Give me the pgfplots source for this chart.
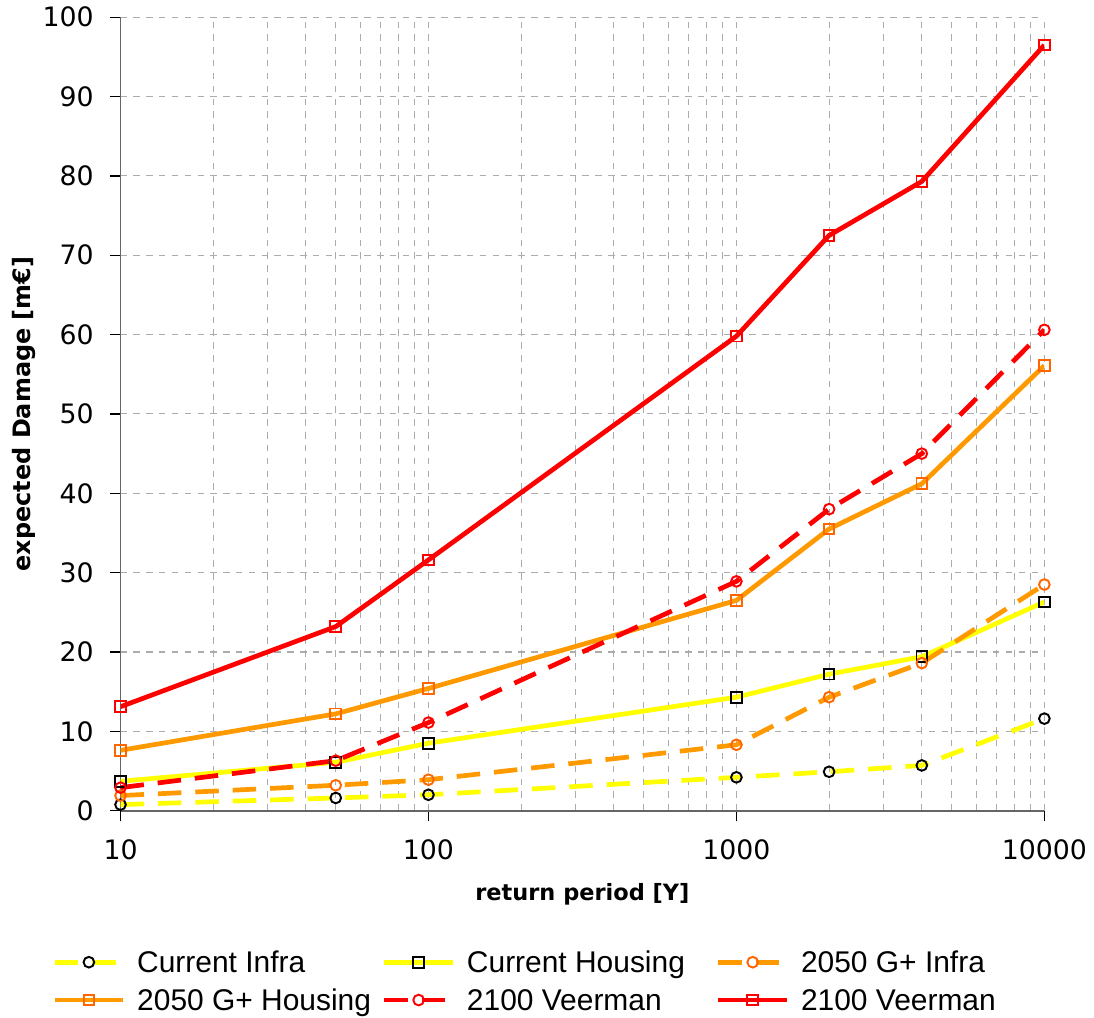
\documentclass[border=0pt]{standalone}
\usepackage{pgfplots}
\pgfplotsset{compat=1.18}
\usepackage{fontspec}
\setmainfont{DejaVu Sans}
\newfontfamily\legfont{Liberation Sans}
\definecolor{cy}{HTML}{FFFF00}
\definecolor{co}{HTML}{FF9900}
\definecolor{cr}{HTML}{FF0000}
\definecolor{mo}{HTML}{FF6600}
\newcommand{\lta}[1]{\makebox[112.5pt][l]{#1}}
\newcommand{\ltb}[1]{\makebox[114.5pt][l]{#1}}
\begin{document}
\begin{tikzpicture}
\begin{axis}[
  scale only axis,
  width=432pt, height=371pt,
  xmode=log, log basis x=10,
  xmin=10, xmax=10000, ymin=0, ymax=100,
  xtick={10,100,1000,10000},
  xticklabels={10,100,1000,10000},
  minor xtick={20,30,40,50,60,70,80,90,200,300,400,500,600,700,800,900,2000,3000,4000,5000,6000,7000,8000,9000},
  ytick={0,10,...,100},
  axis x line*=bottom, axis y line*=left,
  axis line style={gray!80!black, line width=0.8pt},
  tick align=outside,
  major tick length=5pt, minor tick length=0pt,
  tick style={black, line width=0.6pt},
  grid=both,
  major grid style={gray!65, dashed, line width=0.5pt},
  minor grid style={gray!65, dashed, line width=0.5pt},
  ticklabel style={font=\fontsize{12.5}{14}\selectfont},
  yticklabel style={xshift=-4pt},
  xticklabel style={yshift=-5pt},
  /pgf/number format/assume math mode=true,
  xlabel={\bfseries return period [Y]},
  ylabel={\bfseries expected Damage [m€]},
  xlabel style={font=\fontsize{10.5}{12}\selectfont, yshift=-4pt},
  ylabel style={font=\fontsize{11.2}{13}\selectfont, inner ysep=5.7pt, yshift=-5.9pt},
  legend columns=3,
  legend style={draw=none, at={(-0.0738,-0.1685)}, anchor=north west,
    inner sep=0pt, outer sep=0pt,
    nodes={inner sep=2pt},
    font=\legfont\fontsize{14}{16}\selectfont,
    /tikz/every odd column/.append style={column sep=3.5pt},
    row sep=1pt},
  legend cell align=left,
  legend image code/.code={\draw[mark repeat=2,mark phase=2] plot coordinates {(0pt,0pt) (16pt,0pt) (32pt,0pt)};},
  dashpat/.style={dash pattern=on 11pt off 6.5pt},
  mark size=2.5pt,
]
\addplot[cy, line width=2.2pt, dashpat, mark=o, mark options={draw=black, fill=white, solid, line width=0.9pt}] coordinates {
(10,0.76) (50,1.6) (100,2.0) (1000,4.2) (2000,4.9) (4000,5.7) (10000,11.6)};
\addlegendentry{\lta{Current Infra}\strut}
\addplot[cy, line width=2.2pt, mark=square, mark options={draw=black, fill=white, solid, line width=0.9pt}] coordinates {
(10,3.7) (50,6.1) (100,8.5) (1000,14.3) (2000,17.2) (4000,19.4) (10000,26.3)};
\addlegendentry{\ltb{Current Housing}\strut}
\addplot[co, line width=2.2pt, dashpat, mark=o, mark options={draw=mo, fill=white, solid, line width=0.9pt}] coordinates {
(10,1.9) (50,3.2) (100,3.9) (1000,8.3) (2000,14.3) (4000,18.6) (10000,28.5)};
\addlegendentry{2050 G+ Infra\strut}
\addplot[co, line width=2.2pt, mark=square, mark options={draw=mo, fill=white, solid, line width=0.9pt}] coordinates {
(10,7.6) (50,12.2) (100,15.4) (1000,26.5) (2000,35.5) (4000,41.2) (10000,56.1)};
\addlegendentry{\lta{2050 G+ Housing}\strut}
\addplot[cr, line width=2.2pt, dashpat, mark=o, mark options={draw=cr, fill=white, solid, line width=0.9pt}] coordinates {
(10,2.9) (50,6.3) (100,11.1) (1000,28.9) (2000,38.0) (4000,45.0) (10000,60.6)};
\addlegendentry{\ltb{2100 Veerman}\strut}
\addplot[cr, line width=2.2pt, mark=square, mark options={draw=cr, fill=white, solid, line width=0.9pt}] coordinates {
(10,13.1) (50,23.2) (100,31.6) (1000,59.8) (2000,72.5) (4000,79.3) (10000,96.5)};
\addlegendentry{2100 Veerman\strut}
\end{axis}
\end{tikzpicture}
\end{document}
